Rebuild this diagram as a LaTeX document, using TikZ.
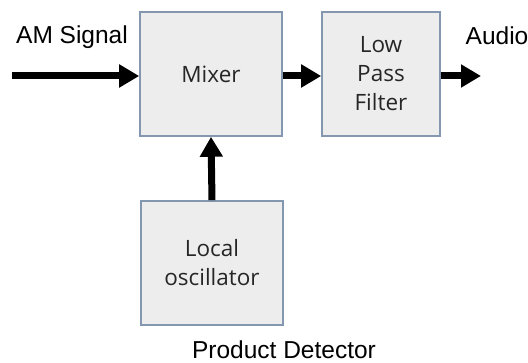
\documentclass[tikz,border=0pt]{standalone}
\usepackage{fontspec}
\setmainfont{Liberation Sans}
\newfontfamily\boxfont{Open Sans}
\usetikzlibrary{arrows.meta}
\definecolor{boxfill}{HTML}{EDEDED}
\definecolor{boxline}{HTML}{8497B0}
\definecolor{boxtext}{HTML}{262626}
\tikzset{
    block/.style={rectangle, draw=boxline, fill=boxfill, line width=1.6pt,
        align=center, text=boxtext, inner sep=0pt,
        font=\boxfont\fontsize{22.5}{29}\selectfont},
    sig/.style={line width=7pt, -{Triangle[length=20pt,width=22pt]}},
    lbl/.style={anchor=base, inner sep=0pt, font=\fontsize{24.5}{28}\selectfont}
}
\begin{document}
\begin{tikzpicture}[x=1pt, y=1pt]
        \useasboundingbox (0,0) rectangle (528,363);
        \node (mixer) [block, minimum width=142pt, minimum height=124pt] at (211, 289) {Mixer};
        \node (lpf) [block, minimum width=118pt, minimum height=124pt] at (381, 289) {Low\\Pass\\Filter};
        \node (osc) [block, minimum width=142pt, minimum height=124pt] at (212, 100) {Local\\oscillator};
        \coordinate (in) at (12, 287);
        \coordinate (out) at (481, 287);
        \node (am) [lbl] at (72, 319) {AM Signal};
        \node (audio) [lbl] at (497, 318) {Audio};
        \node (title) [lbl] at (284, 4) {Product Detector};
        \draw [sig] (in) -- (in -| mixer.west);
        \draw [sig] (mixer.east |- in) -- (lpf.west |- in);
        \draw [sig] (lpf.east |- in) -- (out);
        \draw [sig] (osc.north) -- (mixer.south);
\end{tikzpicture}
\end{document}
